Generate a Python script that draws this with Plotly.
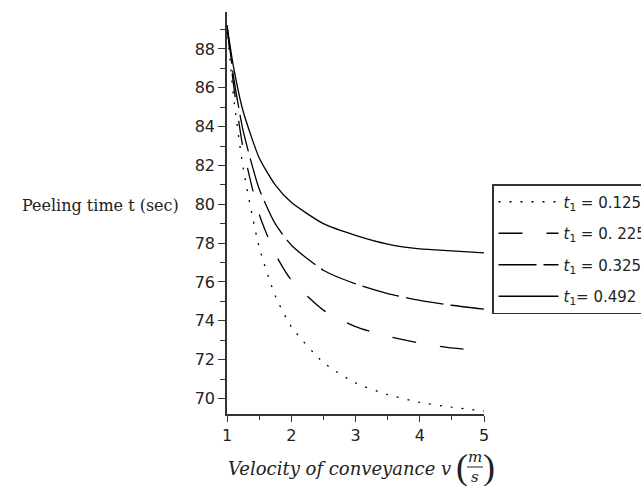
import plotly.graph_objects as go

# velocity of conveyance v (m/s)
velocity = [1.0, 1.1, 1.25, 1.5, 1.75, 2.0, 2.5, 3.0, 3.5, 4.0, 4.5, 5.0]

# peeling time t (sec) for each t1
t_0125 = [89.2, 85.6, 81.9, 77.8, 75.3, 73.7, 71.85, 70.8, 70.2, 69.8, 69.55, 69.35]
t_0225 = [89.2, 86.2, 82.9, 79.5, 77.45, 76.1, 74.55, 73.7, 73.2, 72.85, 72.6, 72.45]
t_0325 = [89.2, 86.6, 83.8, 80.8, 79.0, 77.9, 76.6, 75.9, 75.4, 75.05, 74.8, 74.6]
t_0492 = [89.2, 87.1, 84.8, 82.4, 81.0, 80.1, 79.0, 78.4, 77.95, 77.7, 77.6, 77.5]

series_names = ["<i>t</i><sub>1</sub> = 0.125", "<i>t</i><sub>1</sub> = 0. 225",
                "<i>t</i><sub>1</sub> = 0.325", "<i>t</i><sub>1</sub>= 0.492"]
series_values = [t_0125, t_0225, t_0325, t_0492]
series_dash = ["2px,9px", "24px,24px", "38px,7px", "solid"]

x_ticks = [1, 2, 3, 4, 5]
y_ticks = [70, 72, 74, 76, 78, 80, 82, 84, 86, 88]

fig = go.Figure()
for i, (name, vals, dash) in enumerate(zip(series_names, series_values, series_dash)):
    fig.add_trace(go.Scatter(
        x=velocity, y=vals, mode="lines", name=name, legendgroup=f"g{i}",
        line=dict(color="black", width=1.3, dash=dash, shape="spline", smoothing=0.6),
    ))

tick_font = dict(family="DejaVu Sans", size=16, color="#222")
fig.update_layout(
    width=641, height=486,
    margin=dict(l=227, r=157, t=12, b=72, autoexpand=False),
    paper_bgcolor="white", plot_bgcolor="white",
    showlegend=True,
    legend=dict(
        x=(492 - 227) / 257, y=(414 - 184) / 402, xanchor="left", yanchor="top",
        bordercolor="#333", borderwidth=1.5, bgcolor="white",
        font=dict(family="DejaVu Sans", size=15, color="#222"),
        traceorder="grouped", tracegroupgap=9, itemwidth=60,
    ),
    xaxis=dict(
        range=[1, 5], tickvals=x_ticks, ticktext=[str(v) for v in x_ticks],
        showgrid=False, zeroline=False, showline=True, linecolor="#333", linewidth=1.5,
        ticks="outside", ticklen=6, tickcolor="#333", tickfont=tick_font,
        minor=dict(dtick=0.5, ticks="outside", ticklen=4, tickcolor="#333"),
    ),
    yaxis=dict(
        range=[69.2, 89.9], tickvals=y_ticks, ticktext=[str(v) for v in y_ticks],
        showgrid=False, zeroline=False, showline=True, linecolor="#333", linewidth=1.5,
        ticks="outside", ticklen=7, tickcolor="#333", tickfont=tick_font,
        minor=dict(tickvals=[71, 73, 75, 77, 79, 81, 83, 85, 87, 89], ticks="outside",
                   ticklen=5, tickcolor="#333"),
    ),
)

# y-axis title (horizontal)
fig.add_annotation(text="Peeling time t (sec)", xref="paper", yref="paper",
                   x=(181 - 227) / 257, y=(414 - 205) / 402, xanchor="right", yanchor="middle",
                   showarrow=False, font=dict(family="DejaVu Serif", size=16, color="#222"))

# x-axis title with fraction m/s in parentheses
serif_it = dict(family="DejaVu Serif", size=18, color="#222")
fig.add_annotation(text="<i>Velocity of conveyance v</i>", xref="paper", yref="paper",
                   x=(453 - 227) / 257, y=(414 - 468) / 402, xanchor="right", yanchor="middle",
                   showarrow=False, font=serif_it)
fig.add_annotation(text="(", xref="paper", yref="paper",
                   x=(462 - 227) / 257, y=(414 - 467) / 402, xanchor="center", yanchor="middle",
                   showarrow=False, font=dict(family="Liberation Serif", size=36, color="#222"))
fig.add_annotation(text=")", xref="paper", yref="paper",
                   x=(489 - 227) / 257, y=(414 - 467) / 402, xanchor="center", yanchor="middle",
                   showarrow=False, font=dict(family="Liberation Serif", size=36, color="#222"))
fig.add_annotation(text="<i>m</i>", xref="paper", yref="paper",
                   x=(475 - 227) / 257, y=(414 - 457) / 402, xanchor="center", yanchor="middle",
                   showarrow=False, font=dict(family="DejaVu Serif", size=15, color="#222"))
fig.add_annotation(text="<i>s</i>", xref="paper", yref="paper",
                   x=(475 - 227) / 257, y=(414 - 477) / 402, xanchor="center", yanchor="middle",
                   showarrow=False, font=dict(family="DejaVu Serif", size=15, color="#222"))
fig.add_shape(type="line", xref="paper", yref="paper",
              x0=(467 - 227) / 257, x1=(483 - 227) / 257,
              y0=(414 - 467) / 402, y1=(414 - 467) / 402,
              line=dict(color="#222", width=1))

fig.write_html("out.html")
